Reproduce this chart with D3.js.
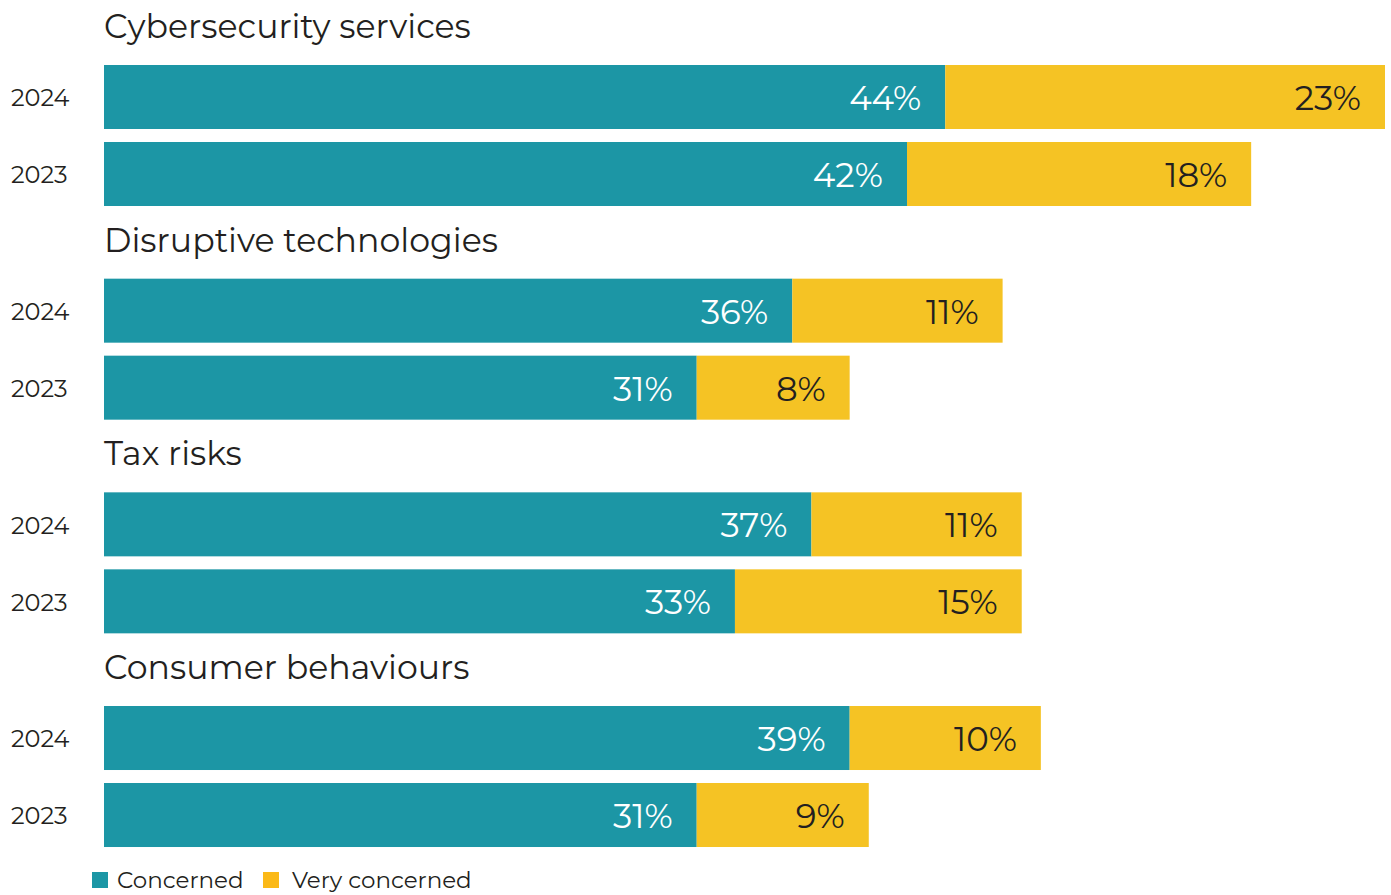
<!DOCTYPE html>
<html>
<head>
<meta charset="utf-8">
<script src="https://cdn.jsdelivr.net/npm/d3@7"></script>
<style>
  html, body { margin: 0; padding: 0; background: #ffffff; }
  svg { display: block; }
  text { font-family: "Montserrat", "Noto Sans", "Open Sans", sans-serif; }
</style>
</head>
<body>
<svg id="chart" width="1391" height="895"></svg>
<script>
const categories = ["Cybersecurity services", "Disruptive technologies", "Tax risks", "Consumer behaviours"];
const years = ["2024", "2023"];
const concerned = [[44, 42], [36, 31], [37, 33], [39, 31]];
const veryConcerned = [[23, 18], [11, 8], [11, 15], [10, 9]];
const seriesNames = ["Concerned", "Very concerned"];
const colors = ["#1c96a5", "#f5c324"];
const legendColors = ["#1c96a5", "#fbb917"];

const svg = d3.select("#chart");

const x = d3.scaleLinear().domain([0, 67]).range([104, 1385]);
const groupY = d3.scaleLinear().domain([0, categories.length]).range([0, 213.67 * categories.length]);
const yearBand = d3.scaleBand().domain(years).range([65, 206]).paddingInner(13 / 77).paddingOuter(0);

const rows = [];
categories.forEach((c, gi) => {
  years.forEach((yr, yi) => {
    rows.push({ cat: c, gi, year: yr, c1: concerned[gi][yi], c2: veryConcerned[gi][yi] });
  });
});

// Titles
svg.selectAll("text.title").data(categories).enter().append("text")
  .attr("class", "title")
  .attr("x", 104)
  .attr("y", (d, i) => groupY(i) + 38)
  .attr("font-size", 33.2)
  .attr("fill", "#231f20")
  .text(d => d);

const row = svg.selectAll("g.row").data(rows).enter().append("g")
  .attr("class", "row")
  .attr("transform", d => `translate(0,${groupY(d.gi) + yearBand(d.year)})`);

const bh = yearBand.bandwidth();

row.append("rect")
  .attr("x", x(0))
  .attr("y", 0)
  .attr("width", d => x(d.c1) - x(0))
  .attr("height", bh)
  .attr("fill", colors[0]);

row.append("rect")
  .attr("x", d => x(d.c1))
  .attr("y", 0)
  .attr("width", d => x(d.c1 + d.c2) - x(d.c1))
  .attr("height", bh)
  .attr("fill", colors[1]);

row.append("text")
  .attr("x", d => x(d.c1) - 24)
  .attr("y", bh / 2 + 1)
  .attr("dy", "0.35em")
  .attr("text-anchor", "end")
  .attr("font-size", 34)
  .attr("fill", "#ffffff")
  .text(d => d.c1 + "%");

row.append("text")
  .attr("x", d => x(d.c1 + d.c2) - 24)
  .attr("y", bh / 2 + 1)
  .attr("dy", "0.35em")
  .attr("text-anchor", "end")
  .attr("font-size", 34)
  .attr("fill", "#231f20")
  .text(d => d.c2 + "%");

row.append("text")
  .attr("x", 11)
  .attr("y", bh / 2 + 1)
  .attr("dy", "0.35em")
  .attr("font-size", 24)
  .attr("fill", "#231f20")
  .text(d => d.year);

// Legend
const legendX = [92, 263];
const legendTextDx = [25, 29];
const lg = svg.selectAll("g.legend").data(seriesNames).enter().append("g")
  .attr("class", "legend")
  .attr("transform", (d, i) => `translate(${legendX[i]},872)`);
lg.append("rect").attr("width", 16).attr("height", 16).attr("fill", (d, i) => legendColors[i]);
lg.append("text").attr("x", (d, i) => legendTextDx[i]).attr("y", 16).attr("font-size", 23).attr("fill", "#231f20").text(d => d);
</script>
</body>
</html>
